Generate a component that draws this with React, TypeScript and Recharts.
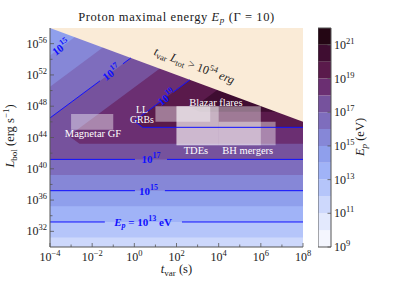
import React from "react";
import { ComposedChart, Area, Line, XAxis, YAxis, ReferenceDot, ReferenceArea } from "recharts";

// ---------------- axes (values are log10 of t_var [s] and L_bol [erg/s]) ----------------
const xDomain: [number, number] = [-4, 8];
const yDomain: [number, number] = [30, 58];
const xTicks = [-4, -3, -2, -1, 0, 1, 2, 3, 4, 5, 6, 7, 8];
const xTickLabels = [-4, -2, 0, 2, 4, 6, 8];
const yTicks = [32, 34, 36, 38, 40, 42, 44, 46, 48, 50, 52, 54, 56];
const yTickLabels = [32, 36, 40, 44, 48, 52, 56];

// ---------------- colour bar (log10 E_p [eV]) ----------------
const cbLevels = [9, 10, 11, 12, 13, 14, 15, 16, 17, 18, 19, 20, 21];
const cbColors = [
  "#f4f6fe", "#e3e9fd", "#cdd8fc", "#b5c5fa", "#a0b3f7", "#8f9fec", "#8687d7",
  "#7e6dbd", "#76529d", "#6b2f72", "#5a1a4b", "#3f0d31", "#240614",
];
const cbTickLabels = [9, 11, 13, 15, 17, 19, 21];
const cbDomain: [number, number] = [9, 22];

// ---------------- E_p contour bands ----------------
const baseBandLevel = 11;
const fillLevels = [12, 13, 14, 15, 16, 17, 18, 19, 20];
// log L of the horizontal (lower) branch of each contour
const lowerBranchL = [31.2, 33.2, 35.2, 37.2, 39.2, 41.2, 43.2, 45.3, 47.3];
// log L of the diagonal (upper) branch at t_var = 1 s
const upperBranchL0 = [74.5, 70.5, 66.5, 62.5, 58.5, 54.5, 50.4, 46.1, 42.2];
const upperBranchSlope = 2;
// rounded tip / corner of the contours where both branches meet (log t)
const tipT: (number | null)[] = [null, null, null, null, null, null, -3.1, 0.0, 2.75];
const cornerT: (number | null)[] = [null, null, null, null, null, null, -2.6, 0.4, 3.1];

// excluded region t_var L_tot > 10^54 erg
const maskLogE = 54;

// ---------------- contour lines & inline labels ----------------
const lineLevels = [13, 15, 17, 19];
const lowerGapStart = [-1.4, 0.03, 0.03, NaN];
const lowerGapEnd = [2.26, 1.45, 1.55, NaN];
const drawUpper = [false, false, true, true];
const upperGapStart = [NaN, NaN, -1.63, 1.21];
const upperGapEnd = [NaN, NaN, -0.54, 1.83];

const labelLevels = [15, 17, 19, 17, 15, 13];
const labelOnUpper = [true, true, true, false, false, false];
const labelT = [-3.48, -1.09, 1.52, 0.79, 0.67, 0.41];

// ---------------- source classes ----------------
const sourceNames = ["Magnetar GF", "LL\nGRBs", "Blazar flares", "TDEs", "BH mergers"];
const sourceTmin = [-3, 1, 2, 2, 4];
const sourceTmax = [-1, 3.6, 6, 4, 6.7];
const sourceLmin = [45, 46, 43, 43, 43];
const sourceLmax = [47, 48, 48, 48, 46];
const sourceLabelT = [-1.96, 0.36, 3.87, 2.92, 5.38];
const sourceLabelL = [44.45, 46.95, 48.5, 42.3, 42.3];

// ---------------- annotation anchors ----------------
const maskLabelT = 2.85;
const maskLabelL = 53.2;
const titleT = 2;
const titleL = 59.45;

// ---------------- style ----------------
const serif = '"Liberation Serif", "Times New Roman", serif';
const ink = "#1a1a1a";
const axisColor = "#555555";
const contourBlue = "#1010ff";
const maskColor = "#faebd7";

const colorOf = (lev: number) => cbColors[cbLevels.indexOf(lev)];
const upAt = (i: number, t: number) => upperBranchL0[i] + upperBranchSlope * t;

function bandRegion(i: number) {
  const lo = lowerBranchL[i];
  const top = yDomain[1];
  const pts: { x: number; r: [number, number] }[] = [];
  const tTop = (top - upperBranchL0[i]) / upperBranchSlope;
  const tip = tipT[i];
  const corner = cornerT[i];
  if (tip !== null && corner !== null) {
    const tl = upAt(i, tip);
    pts.push({ x: tip, r: [tl, tl] });
    pts.push({ x: corner, r: [lo, Math.min(upAt(i, corner), top)] });
  } else {
    const tStart = Math.max(xDomain[0], (lo - upperBranchL0[i]) / upperBranchSlope);
    pts.push({ x: tStart, r: [lo, Math.min(upAt(i, tStart), top)] });
  }
  if (tTop > pts[pts.length - 1].x && tTop < xDomain[1]) pts.push({ x: tTop, r: [lo, top] });
  pts.push({ x: xDomain[1], r: [lo, Math.min(upAt(i, xDomain[1]), top)] });
  return pts;
}

const baseData = [xDomain[0], xDomain[1]].map((t) => ({ x: t, r: [yDomain[0], yDomain[1]] }));
const bandData = fillLevels.map((lev, i) => ({ lev, color: colorOf(lev), data: bandRegion(i) }));
const maskData = [xDomain[0], xDomain[1]].map((t) => ({
  x: t,
  r: [Math.min(yDomain[1], maskLogE - t), yDomain[1]],
}));
const boxData = sourceNames.map((_, k) => [
  { x: sourceTmin[k], r: [sourceLmin[k], sourceLmax[k]] },
  { x: sourceTmax[k], r: [sourceLmin[k], sourceLmax[k]] },
]);

type P = { x: number; L: number };
const contourSegments: P[][] = [];
lineLevels.forEach((lev, j) => {
  const i = fillLevels.indexOf(lev);
  const lo = lowerBranchL[i];
  const tip = tipT[i];
  const corner = cornerT[i];
  if (tip !== null && corner !== null) {
    contourSegments.push([
      { x: tip, L: upAt(i, tip) },
      { x: corner, L: lo },
      { x: xDomain[1], L: lo },
    ]);
  } else if (!isNaN(lowerGapStart[j])) {
    contourSegments.push([{ x: xDomain[0], L: lo }, { x: lowerGapStart[j], L: lo }]);
    contourSegments.push([{ x: lowerGapEnd[j], L: lo }, { x: xDomain[1], L: lo }]);
  } else {
    contourSegments.push([{ x: xDomain[0], L: lo }, { x: xDomain[1], L: lo }]);
  }
  if (drawUpper[j]) {
    const start = tip !== null ? tip : Math.max(xDomain[0], (lo - upperBranchL0[i]) / upperBranchSlope);
    const end = (maskLogE - upperBranchL0[i]) / (upperBranchSlope + 1);
    const pt = (t: number) => ({ x: t, L: upAt(i, t) });
    contourSegments.push([pt(start), pt(upperGapStart[j])]);
    contourSegments.push([pt(upperGapEnd[j]), pt(end)]);
  }
});

const diagAngle = -36.6;
const maskAngle = 20.35;

const expText = (v: number) => (v < 0 ? "\u2212" + Math.abs(v) : String(v));

// ---------------- tick renderers ----------------
const BottomTick = (props: any) => {
  const { x, y, payload } = props;
  const v = payload.value;
  const major = xTickLabels.includes(v);
  return (
    <g>
      <line x1={x} x2={x} y1={y} y2={y - (major ? 4 : 2.5)} stroke={axisColor} strokeWidth={0.8} />
      {major && (
        <text x={x} y={y + 13.5} textAnchor="middle" fontFamily={serif} fontSize={12} fill={ink}>
          10<tspan dy={-5} fontSize={8.5}>{expText(v)}</tspan>
        </text>
      )}
    </g>
  );
};
const TopTick = (props: any) => {
  const { x, y, payload } = props;
  const major = xTickLabels.includes(payload.value);
  return <line x1={x} x2={x} y1={y} y2={y + (major ? 4 : 2.5)} stroke={axisColor} strokeWidth={0.8} />;
};
const LeftTick = (props: any) => {
  const { x, y, payload } = props;
  const v = payload.value;
  const major = yTickLabels.includes(v);
  return (
    <g>
      <line x1={x} x2={x + (major ? 4 : 2.5)} y1={y} y2={y} stroke={axisColor} strokeWidth={0.8} />
      {major && (
        <text x={x - 3} y={y + 4} textAnchor="end" fontFamily={serif} fontSize={12} fill={ink}>
          10<tspan dy={-5} fontSize={8.5}>{expText(v)}</tspan>
        </text>
      )}
    </g>
  );
};
const RightTick = (props: any) => {
  const { x, y, payload } = props;
  const major = yTickLabels.includes(payload.value);
  return <line x1={x} x2={x - (major ? 4 : 2.5)} y1={y} y2={y} stroke={axisColor} strokeWidth={0.8} />;
};
const CbTick = (props: any) => {
  const { x, y, payload } = props;
  return (
    <g>
      <line x1={x} x2={x - 3.5} y1={y} y2={y} stroke={axisColor} strokeWidth={0.8} />
      <text x={x + 3} y={y + 4} textAnchor="start" fontFamily={serif} fontSize={12} fill={ink}>
        10<tspan dy={-5} fontSize={8.5}>{expText(payload.value)}</tspan>
      </text>
    </g>
  );
};

// ---------------- text labels ----------------
const ContourLabelShape = (lev: number, angle: number) => (p: any) => {
  const { cx, cy } = p;
  const full = lev === 13;
  return (
    <text
      x={cx}
      y={cy + 4}
      transform={`rotate(${angle} ${cx} ${cy})`}
      textAnchor="middle"
      fontFamily={serif}
      fontWeight="bold"
      fontSize={11}
      fill={contourBlue}
    >
      {full ? (
        <>
          <tspan fontStyle="italic">E</tspan>
          <tspan dy={2.5} fontSize={8} fontStyle="italic">p</tspan>
          <tspan dy={-2.5}> = 10</tspan>
          <tspan dy={-5} fontSize={8}>{lev}</tspan>
          <tspan dy={5}> eV</tspan>
        </>
      ) : (
        <>
          10<tspan dy={-5} fontSize={8}>{lev}</tspan>
        </>
      )}
    </text>
  );
};

const SourceLabelShape = (name: string) => (p: any) => {
  const { cx, cy } = p;
  const lines = name.split("\n");
  const lh = 9.6;
  const y0 = cy + 3.4 - ((lines.length - 1) * lh) / 2;
  return (
    <g>
      {lines.map((ln, k) => (
        <text
          key={k}
          x={cx}
          y={y0 + k * lh}
          textAnchor="middle"
          fontFamily={serif}
          fontSize={lines.length > 1 ? 9.8 : 10.5}
          fill="#ffffff"
        >
          {ln}
        </text>
      ))}
    </g>
  );
};

const MaskLabelShape = (p: any) => {
  const { cx, cy } = p;
  return (
    <text
      x={cx}
      y={cy + 4}
      transform={`rotate(${maskAngle} ${cx} ${cy})`}
      textAnchor="middle"
      fontFamily={serif}
      fontSize={12}
      fill={ink}
    >
      <tspan fontStyle="italic">t</tspan>
      <tspan dy={2.5} fontSize={8.5}>var</tspan>
      <tspan dy={-2.5} fontStyle="italic"> L</tspan>
      <tspan dy={2.5} fontSize={8.5}>tot</tspan>
      <tspan dy={-2.5}> &gt; 10</tspan>
      <tspan dy={-5} fontSize={8.5}>{maskLogE}</tspan>
      <tspan dy={5} fontStyle="italic"> erg</tspan>
    </text>
  );
};

const TitleShape = (p: any) => {
  const { cx, cy } = p;
  return (
    <text x={cx} y={cy + 4} textAnchor="middle" fontFamily={serif} fontSize={12.5} fill={ink} letterSpacing={0.6}>
      Proton maximal energy <tspan fontStyle="italic">E</tspan>
      <tspan dy={2.5} fontSize={9} fontStyle="italic">p</tspan>
      <tspan dy={-2.5}> (Γ = 10)</tspan>
    </text>
  );
};
const XLabel = () => (
  <text x={176.5} y={273} textAnchor="middle" fontFamily={serif} fontSize={12.5} fill={ink}>
    <tspan fontStyle="italic">t</tspan>
    <tspan dy={2.5} fontSize={9}>var</tspan>
    <tspan dy={-2.5}> (s)</tspan>
  </text>
);
const YLabel = () => (
  <text x={14} y={136} transform="rotate(-90 14 136)" textAnchor="middle" fontFamily={serif} fontSize={12.5} fill={ink}>
    <tspan fontStyle="italic">L</tspan>
    <tspan dy={2.5} fontSize={9}>bol</tspan>
    <tspan dy={-2.5}> (erg s</tspan>
    <tspan dy={-5} fontSize={9}>−1</tspan>
    <tspan dy={5}>)</tspan>
  </text>
);
const CbLabel = () => (
  <text x={46} y={137} transform="rotate(-90 46 137)" textAnchor="middle" fontFamily={serif} fontSize={12.5} fill={ink}>
    <tspan fontStyle="italic">E</tspan>
    <tspan dy={2.5} fontSize={9} fontStyle="italic">p</tspan>
    <tspan dy={-2.5}> (eV)</tspan>
  </text>
);

const cbData = cbLevels.map((lev) => [
  { x: 0, r: [lev, lev + 1] },
  { x: 1, r: [lev, lev + 1] },
]);

export default function App() {
  return (
    <div style={{ position: "absolute", left: 0, top: 0, width: 407, height: 281, background: "#ffffff" }}>
      <div style={{ position: "absolute", left: 0, top: 0 }}>
        <ComposedChart width={407} height={281} margin={{ top: 28, right: 104, bottom: 4, left: 0 }}>
          <XAxis
            dataKey="x"
            type="number"
            domain={xDomain}
            ticks={xTicks}
            interval={0}
            allowDataOverflow
            height={30}
            tickSize={0}
            tickMargin={0}
            tickLine={false}
            axisLine={{ stroke: axisColor, strokeWidth: 1 }}
            tick={(p: any) => <BottomTick {...p} />}
            label={{ content: () => <XLabel /> }}
          />
          <XAxis
            xAxisId="top"
            orientation="top"
            dataKey="x"
            type="number"
            domain={xDomain}
            ticks={xTicks}
            interval={0}
            allowDataOverflow
            height={0}
            tickSize={0}
            tickMargin={0}
            tickLine={false}
            axisLine={{ stroke: axisColor, strokeWidth: 1 }}
            tick={(p: any) => <TopTick {...p} />}
          />
          <YAxis
            type="number"
            domain={yDomain}
            ticks={yTicks}
            interval={0}
            allowDataOverflow
            width={50}
            tickSize={0}
            tickMargin={0}
            tickLine={false}
            axisLine={{ stroke: axisColor, strokeWidth: 1 }}
            tick={(p: any) => <LeftTick {...p} />}
            label={{ content: () => <YLabel /> }}
          />
          <YAxis
            yAxisId="right"
            orientation="right"
            type="number"
            domain={yDomain}
            ticks={yTicks}
            interval={0}
            allowDataOverflow
            width={0}
            tickSize={0}
            tickMargin={0}
            tickLine={false}
            axisLine={{ stroke: axisColor, strokeWidth: 1 }}
            tick={(p: any) => <RightTick {...p} />}
          />

          <Area
            data={baseData}
            dataKey="r"
            type="linear"
            stroke="none"
            fill={colorOf(baseBandLevel)}
            fillOpacity={1}
            isAnimationActive={false}
            dot={false}
            activeDot={false}
          />
          {bandData.map((b) => (
            <Area
              key={"band" + b.lev}
              data={b.data}
              dataKey="r"
              type="linear"
              stroke="none"
              fill={b.color}
              fillOpacity={1}
              isAnimationActive={false}
              dot={false}
              activeDot={false}
            />
          ))}
          <Area
            data={maskData}
            dataKey="r"
            type="linear"
            stroke="none"
            fill={maskColor}
            fillOpacity={1}
            isAnimationActive={false}
            dot={false}
            activeDot={false}
          />
          {boxData.map((d, k) => (
            <Area
              key={"box" + k}
              data={d}
              dataKey="r"
              type="linear"
              stroke="none"
              fill="#ffffff"
              fillOpacity={0.42}
              isAnimationActive={false}
              dot={false}
              activeDot={false}
            />
          ))}
          {contourSegments.map((seg, k) => (
            <Line
              key={"c" + k}
              data={seg}
              dataKey="L"
              type="linear"
              stroke={contourBlue}
              strokeWidth={1}
              dot={false}
              activeDot={false}
              isAnimationActive={false}
            />
          ))}

          {labelLevels.map((lev, k) => {
            const i = fillLevels.indexOf(lev);
            const L = labelOnUpper[k] ? upAt(i, labelT[k]) : lowerBranchL[i];
            return (
              <ReferenceDot
                key={"cl" + k}
                x={labelT[k]}
                y={L}
                r={0}
                zIndex={2000}
                ifOverflow="visible"
                shape={ContourLabelShape(lev, labelOnUpper[k] ? diagAngle : 0)}
              />
            );
          })}
          {sourceNames.map((name, k) => (
            <ReferenceDot
              key={"sl" + k}
              x={sourceLabelT[k]}
              y={sourceLabelL[k]}
              r={0}
              zIndex={2000}
              ifOverflow="visible"
              shape={SourceLabelShape(name)}
            />
          ))}
          <ReferenceDot x={maskLabelT} y={maskLabelL} r={0} zIndex={2000} ifOverflow="visible" shape={MaskLabelShape} />
          <ReferenceDot x={titleT} y={titleL} r={0} zIndex={2000} ifOverflow="visible" shape={TitleShape} />
        </ComposedChart>
      </div>

      <div style={{ position: "absolute", left: 318, top: 0 }}>
        <ComposedChart width={89} height={281} margin={{ top: 28, right: 0, bottom: 34, left: 0 }}>
          <XAxis dataKey="x" type="number" domain={[0, 1]} hide />
          <YAxis
            orientation="right"
            type="number"
            domain={cbDomain}
            ticks={cbTickLabels}
            interval={0}
            allowDataOverflow
            width={76}
            tickSize={0}
            tickMargin={0}
            tickLine={false}
            axisLine={false}
            tick={(p: any) => <CbTick {...p} />}
            label={{ content: () => <CbLabel /> }}
          />
          {cbData.map((d, k) => (
            <Area
              key={"cb" + k}
              data={d}
              dataKey="r"
              type="linear"
              stroke="none"
              fill={cbColors[k]}
              fillOpacity={1}
              isAnimationActive={false}
              dot={false}
              activeDot={false}
            />
          ))}
          <ReferenceArea
            x1={0}
            x2={1}
            y1={cbDomain[0]}
            y2={cbDomain[1]}
            fill="none"
            stroke={axisColor}
            strokeWidth={1}
            zIndex={1500}
            ifOverflow="visible"
          />
        </ComposedChart>
      </div>
    </div>
  );
}
